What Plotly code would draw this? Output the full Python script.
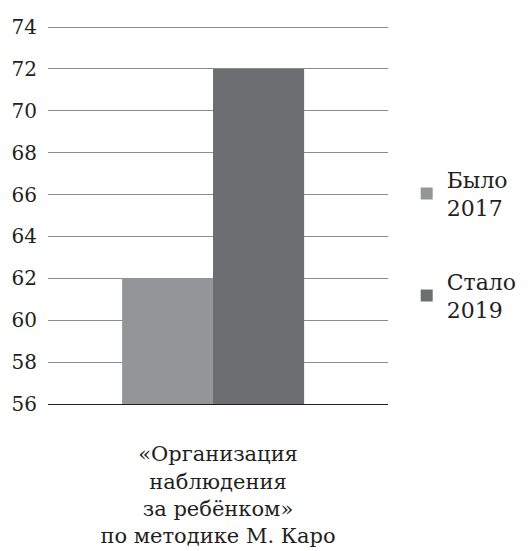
import plotly.graph_objects as go

categories = ["«Организация<br>наблюдения<br>за ребёнком»<br>по методике М. Каро"]
series_names = ["Было<br>2017", "Стало<br>2019"]
values_2017 = [62]
values_2019 = [72]
colors = ["#939598", "#6d6e71"]
y_ticks = [56, 58, 60, 62, 64, 66, 68, 70, 72, 74]
bar_offsets = [-0.282, -0.0147]
BAR_W = 0.268

FONT = "DejaVu Serif"

fig = go.Figure()
for i, (name, vals) in enumerate(zip(series_names, [values_2017, values_2019])):
    fig.add_trace(go.Bar(
        x=categories, y=vals, name=name,
        width=BAR_W, offset=bar_offsets[i],
        marker=dict(color=colors[i], line=dict(width=0)),
        legendgroup=str(i),
    ))

fig.update_layout(
    width=530, height=551,
    margin=dict(l=40, r=150, t=18, b=155),
    paper_bgcolor="white", plot_bgcolor="white",
    barmode="overlay",
    font=dict(family=FONT, size=20, color="#231f20"),
    showlegend=True,
    legend=dict(
        x=1.055, y=0.65, xanchor="left", yanchor="top",
        font=dict(family=FONT, size=22, color="#231f20"),
        tracegroupgap=42, traceorder="grouped",
        bgcolor="rgba(0,0,0,0)",
    ),
)
fig.update_yaxes(
    range=[56, 74.05], tickvals=y_ticks, ticktext=[str(v) for v in y_ticks],
    showgrid=True, gridcolor="#8c8c8c", gridwidth=1,
    zeroline=False, showline=False, ticks="",
    tickfont=dict(family=FONT, size=20, color="#231f20"),
    ticklabelstandoff=10, automargin=False,
)
fig.update_xaxes(
    range=[-0.5, 0.5],
    showline=True, linecolor="#231f20", linewidth=1.3,
    ticks="", showgrid=False,
    tickfont=dict(family=FONT, size=21, color="#231f20"),
    ticklabelstandoff=31, automargin=False,
)
fig.write_html("out.html")
